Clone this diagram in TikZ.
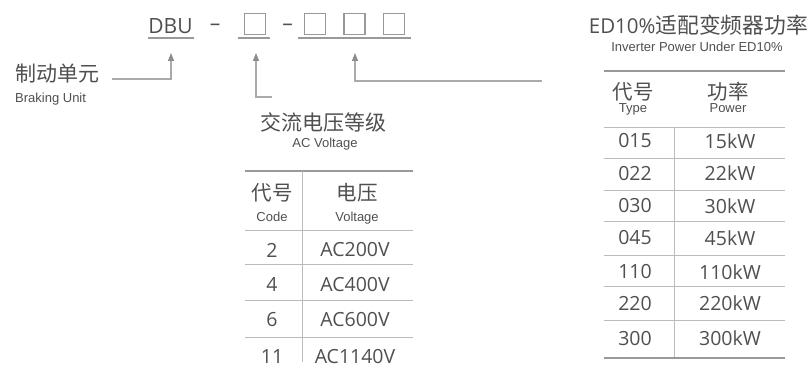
\documentclass[tikz,border=0pt]{standalone}
\usepackage{fontspec}
\setmainfont{Open Sans}
\newfontfamily\zh{Noto Sans CJK SC}
\newfontfamily\en{Liberation Sans}
\usetikzlibrary{arrows.meta}
\definecolor{txt}{HTML}{4F4F4F}
\definecolor{ln}{HTML}{AAAAAA}
\definecolor{thk}{HTML}{999999}
\definecolor{tip}{HTML}{8C8C8C}
\tikzset{
  lbl/.style={inner sep=0pt, text=txt},
  big/.style={lbl, font=\fontsize{21}{21}\selectfont},
  cjk/.style={lbl, font=\zh\fontsize{21}{21}\selectfont},
  hdr/.style={lbl, font=\zh\fontsize{20.5}{20.5}\selectfont},
  small/.style={lbl, anchor=base, font=\en\fontsize{13}{13}\selectfont},
  cell/.style={lbl, font=\fontsize{19.5}{19.5}\selectfont},
  slot/.style={draw=thk, line width=1.1pt, minimum width=21pt, minimum height=21pt, inner sep=0pt},
  uline/.style={draw=thk, line width=2.5pt},
  conn/.style={draw=ln, line width=1.2pt, -{Triangle[width=6pt,length=8pt,fill=tip,color=tip]}},
  thin/.style={draw=ln!80, line width=1pt},
  thick/.style={draw=thk, line width=2.8pt},
}
\begin{document}
\begin{tikzpicture}[x=1pt,y=-1pt]
\useasboundingbox (0,0) rectangle (812,371);
% code line
\node[big] (dbu) at (170.5,26.5) {DBU};
\node[big] (d1) at (215,27) {–};
\node[slot] (s1) at (255,24) {};
\node[big] (d2) at (287.5,27) {–};
\node[slot] (s2) at (315,24) {};
\node[slot] (s3) at (354.5,24) {};
\node[slot] (s4) at (394,24) {};
\coordinate (u1a) at (148,38); \coordinate (u1b) at (194,38);
\coordinate (u2a) at (238,38); \coordinate (u2b) at (270,38);
\coordinate (u3a) at (298,38); \coordinate (u3b) at (411,38);
\draw[uline] (u1a) -- (u1b);
\draw[uline] (u2a) -- (u2b);
\draw[uline] (u3a) -- (u3b);
% arrows
\coordinate (t1) at (171,53); \coordinate (t2) at (256,53); \coordinate (t3) at (355,53);
\coordinate (e1) at (112,79); \coordinate (e2) at (272,97); \coordinate (e3) at (542,81);
\draw[conn] (e1) -| (t1);
\draw[conn] (e2) -| (t2);
\draw[conn] (e3) -| (t3);
% braking unit
\node[cjk] (bu) at (57.5,74) {制动单元};
\node[small, anchor=base west] (bue) at (15,103) {Braking Unit};
% AC voltage table
\node[cjk] (acv) at (323.5,122) {交流电压等级};
\node[small] (acve) at (325,148) {AC Voltage};
\draw[thick] (245,171) -- (413,171);
\draw[thin] (302,171) -- (302,362);
\foreach \yy in {231,265,301,338} \draw[thin] (245,\yy) -- (413,\yy);
\node[hdr] (h1) at (272,193) {代号};
\node[small] (h1e) at (272,222) {Code};
\node[hdr] (h2) at (357,193) {电压};
\node[small] (h2e) at (357,222) {Voltage};
\node[cell] (c21) at (272,250) {2};   \node[cell] (c22) at (355,250) {AC200V};
\node[cell] (c41) at (272,285) {4};   \node[cell] (c42) at (355,285) {AC400V};
\node[cell] (c61) at (272,320) {6};   \node[cell] (c62) at (355,320) {AC600V};
\node[cell] (c111) at (272,357) {11}; \node[cell] (c112) at (355,357) {AC1140V};
% Power table
\node[lbl, font=\fontsize{20.5}{20.5}\selectfont] (pt) at (698.5,25) {ED10\%{\zh\fontsize{21.8}{21.8}\selectfont 适配变频器功率}};
\node[small] (pte) at (697,52) {Inverter Power Under ED10\%};
\draw[thick] (604,71) -- (785,71);
\foreach \yy in {128,159,191,222,256,287,321} \draw[thin] (604,\yy) -- (785,\yy);
\draw[thin] (674,128) -- (674,358);
\draw[thick] (604,358) -- (785,358);
\node[hdr] (p1) at (633,92) {代号};
\node[small] (p1e) at (633,113) {Type};
\node[hdr] (p2) at (728,92) {功率};
\node[small] (p2e) at (728,113) {Power};
\node[cell] (r1a) at (635,141) {015}; \node[cell] (r1b) at (730,141) {15kW};
\node[cell] (r2a) at (635,173.5) {022}; \node[cell] (r2b) at (730,173.5) {22kW};
\node[cell] (r3a) at (635,206) {030}; \node[cell] (r3b) at (730,206) {30kW};
\node[cell] (r4a) at (635,238) {045}; \node[cell] (r4b) at (730,238) {45kW};
\node[cell] (r5a) at (635,272) {110}; \node[cell] (r5b) at (730,272) {110kW};
\node[cell] (r6a) at (635,303.5) {220}; \node[cell] (r6b) at (730,303.5) {220kW};
\node[cell] (r7a) at (635,338.5) {300}; \node[cell] (r7b) at (730,338.5) {300kW};
\end{tikzpicture}
\end{document}
